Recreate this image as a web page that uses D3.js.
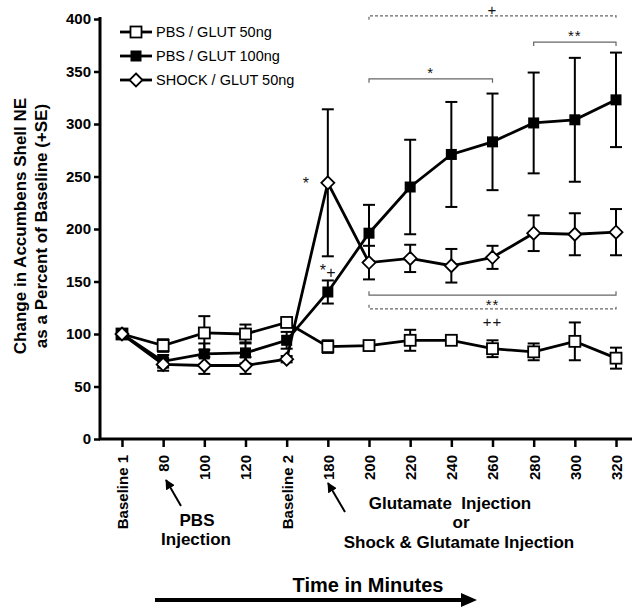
<!DOCTYPE html>
<html lang="en">
<head>
<meta charset="UTF-8">
<title>Accumbens Shell NE</title>
<script src="https://d3js.org/d3.v7.min.js"></script>
<style>
    body{margin:0;background:#fff;}
    svg{display:block;font-family:"Liberation Sans",Arial,sans-serif;}
    .axis text{font-size:15px;font-weight:bold;fill:#000;}
    .axis path,.axis line{stroke:#000;}
    .bold{font-weight:bold;}
</style>
</head>
<body>
<svg id="chart" width="632" height="609"></svg>
<script>
    const categories = ['Baseline 1','80','100','120','Baseline 2','180','200','220','240','260','280','300','320'];
    const yTicks = [0,50,100,150,200,250,300,350,400];

    const pbs50     = [100, 89, 101, 100, 111, 88, 89, 94, 94, 86, 83, 93, 77];
    const pbs50Err  = [3, 6, 16, 9, 4, 6, 3, 10, 3, 8, 8, 18, 10];
    const pbs100    = [100, 74, 81, 82, 94, 140, 196, 240, 271, 283, 301, 304, 323];
    const pbs100Err = [3, 6, 10, 10, 8, 11, 27, 45, 50, 46, 48, 59, 45];
    const shock50   = [100, 71, 70, 70, 76, 244, 168, 172, 165, 173, 196, 195, 197];
    const shock50Err= [2, 6, 8, 8, 3, 70, 16, 13, 16, 11, 17, 20, 22];

    const seriesNames = ['PBS / GLUT 50ng','PBS / GLUT 100ng','SHOCK / GLUT 50ng'];

    // significance brackets (value = height in y units)
    const brackets = [
        {from:'200', to:'320', value:403, dashed:true,  label:'+',  side:'top'},
        {from:'280', to:'320', value:378, dashed:false, label:'**', side:'top'},
        {from:'200', to:'260', value:343, dashed:false, label:'*',  side:'top'},
        {from:'200', to:'320', value:137, dashed:false, label:'**', side:'bottom'},
        {from:'200', to:'320', value:124, dashed:true,  label:'++', side:'bottom'}
    ];

    const svg = d3.select('#chart');
    const x = d3.scalePoint().domain(categories).range([101.4,636.6]).padding(0.5);
    const y = d3.scaleLinear().domain([0,400]).range([439,19]);

    const series = [
        {name:seriesNames[0], values:pbs50,  err:pbs50Err,  shape:'open'},
        {name:seriesNames[1], values:pbs100, err:pbs100Err, shape:'filled'},
        {name:seriesNames[2], values:shock50,err:shock50Err,shape:'diamond'}
    ];

    function marker(g, shape, cx, cy){
        if(shape==='diamond'){
            g.append('path')
                .attr('d',`M${cx},${cy-6.5}L${cx+6.5},${cy}L${cx},${cy+6.5}L${cx-6.5},${cy}Z`)
                .attr('fill','#fff').attr('stroke','#000').attr('stroke-width',1.8);
        }else if(shape==='open'){
            g.append('rect')
                .attr('x',cx-5.5).attr('y',cy-5.5).attr('width',11).attr('height',11)
                .attr('fill','#fff').attr('stroke','#000').attr('stroke-width',1.8);
        }else{
            g.append('rect')
                .attr('x',cx-5.5).attr('y',cy-5.5).attr('width',11).attr('height',11)
                .attr('fill','#000');
        }
    }

    // axes
    const yAxis = svg.append('g').attr('class','axis')
        .attr('transform','translate(100,0)')
        .call(d3.axisLeft(y).tickValues(yTicks).tickSize(6).tickSizeOuter(0).tickPadding(3));
    yAxis.select('.domain').attr('stroke-width',3).attr('d','M0,439V17');
    yAxis.selectAll('.tick line').attr('stroke-width',2.5);

    const xAxis = svg.append('g').attr('class','axis')
        .attr('transform','translate(0,439)')
        .call(d3.axisBottom(x).tickSize(8).tickSizeOuter(0));
    xAxis.select('.domain').attr('stroke-width',3).attr('d','M99,0H632');
    xAxis.selectAll('.tick line').attr('stroke-width',2.5);
    xAxis.selectAll('.tick text')
        .attr('transform','rotate(-90)')
        .attr('text-anchor','end')
        .attr('x',-16).attr('y',0).attr('dy','0.36em');

    // y title
    const yt = [['Change in Accumbens Shell NE',25.5],['as a Percent of Baseline (+SE)',46.5]];
    yt.forEach(([t,px])=>{
        svg.append('text').attr('class','bold')
            .attr('transform',`translate(${px},226) rotate(-90)`)
            .attr('text-anchor','middle').attr('font-size',17).text(t);
    });

    // lines
    const line = d3.line().x((d,i)=>x(categories[i])).y(d=>y(d));
    series.forEach(s=>{
        svg.append('path').datum(s.values)
            .attr('d',line).attr('fill','none')
            .attr('stroke','#000').attr('stroke-width',2.8).attr('stroke-linejoin','miter');
    });

    // error bars
    series.forEach(s=>{
        const g = svg.append('g').attr('stroke','#000').attr('stroke-width',2);
        s.values.forEach((v,i)=>{
            const cx = x(categories[i]);
            const lo = y(v-s.err[i]), hi = y(v+s.err[i]);
            g.append('line').attr('x1',cx).attr('x2',cx).attr('y1',lo).attr('y2',hi);
            [lo,hi].forEach(py=>g.append('line').attr('x1',cx-6).attr('x2',cx+6).attr('y1',py).attr('y2',py));
        });
    });

    // markers
    series.forEach(s=>{
        const g = svg.append('g');
        s.values.forEach((v,i)=>marker(g,s.shape,x(categories[i]),y(v)));
    });

    // legend
    series.forEach((s,i)=>{
        const ly = 32 + i*24;
        const g = svg.append('g');
        g.append('line').attr('x1',120).attr('x2',152).attr('y1',ly).attr('y2',ly)
            .attr('stroke','#000').attr('stroke-width',2.8);
        marker(g,s.shape,136,ly);
        g.append('text').attr('x',156).attr('y',ly).attr('dy','0.36em')
            .attr('font-size',14.5).text(s.name);
    });

    // brackets
    brackets.forEach(b=>{
        const x1 = x(b.from), x2 = x(b.to), by = y(b.value);
        const tick = b.side==='top' ? 4 : -4;
        svg.append('path')
            .attr('d',`M${x1},${by+tick}V${by}H${x2}V${by+tick}`)
            .attr('fill','none').attr('stroke','#666').attr('stroke-width',1.2)
            .attr('stroke-dasharray',b.dashed?'3,2':null);
        svg.append('text')
            .attr('x',(x1+x2)/2).attr('y',b.side==='top'?by-1:(b.dashed?by+18:by+15))
            .attr('text-anchor','middle').attr('font-size',15).attr('letter-spacing',1)
            .attr('fill','#111')
            .text(b.label);
    });

    // point annotations near 180
    svg.append('text').attr('x',x('180')-22).attr('y',y(shock50[5])+6)
        .attr('text-anchor','middle').attr('font-size',16).attr('fill','#111').text('*');
    svg.append('text').attr('x',x('180')-5).attr('y',y(pbs100[5])-16)
        .attr('text-anchor','middle').attr('font-size',16).attr('fill','#111').text('*');
    svg.append('text').attr('x',x('180')+3).attr('y',y(pbs100[5])-14)
        .attr('text-anchor','middle').attr('font-size',16).attr('fill','#111').text('+');

    // annotation arrows and text
    const defs = svg.append('defs');
    defs.append('marker').attr('id','head').attr('viewBox','0 0 10 10')
        .attr('refX',9).attr('refY',5).attr('markerWidth',5).attr('markerHeight',5)
        .attr('orient','auto').attr('markerUnits','strokeWidth')
        .append('path').attr('d','M0,0L10,5L0,10Z').attr('fill','#000');

    svg.append('line').attr('x1',181).attr('y1',506).attr('x2',166).attr('y2',480)
        .attr('stroke','#000').attr('stroke-width',2).attr('marker-end','url(#head)');
    svg.append('line').attr('x1',345).attr('y1',512).attr('x2',328).attr('y2',483)
        .attr('stroke','#000').attr('stroke-width',2).attr('marker-end','url(#head)');

    const notes = [
        ['PBS',197,526],['Injection',196,545],
        ['Glutamate\u00a0 Injection',450,509],['or',461,528],['Shock & Glutamate Injection',459,548]
    ];
    notes.forEach(([t,tx,ty])=>{
        svg.append('text').attr('class','bold').attr('x',tx).attr('y',ty)
            .attr('text-anchor','middle').attr('font-size',17).text(t);
    });

    svg.append('text').attr('class','bold').attr('x',368).attr('y',592)
        .attr('text-anchor','middle').attr('font-size',20).text('Time in Minutes');
    svg.append('line').attr('x1',155).attr('x2',463).attr('y1',600).attr('y2',600)
        .attr('stroke','#000').attr('stroke-width',4);
    svg.append('path').attr('d','M461,593L477,600L461,607Z').attr('fill','#000');
</script>
</body>
</html>
